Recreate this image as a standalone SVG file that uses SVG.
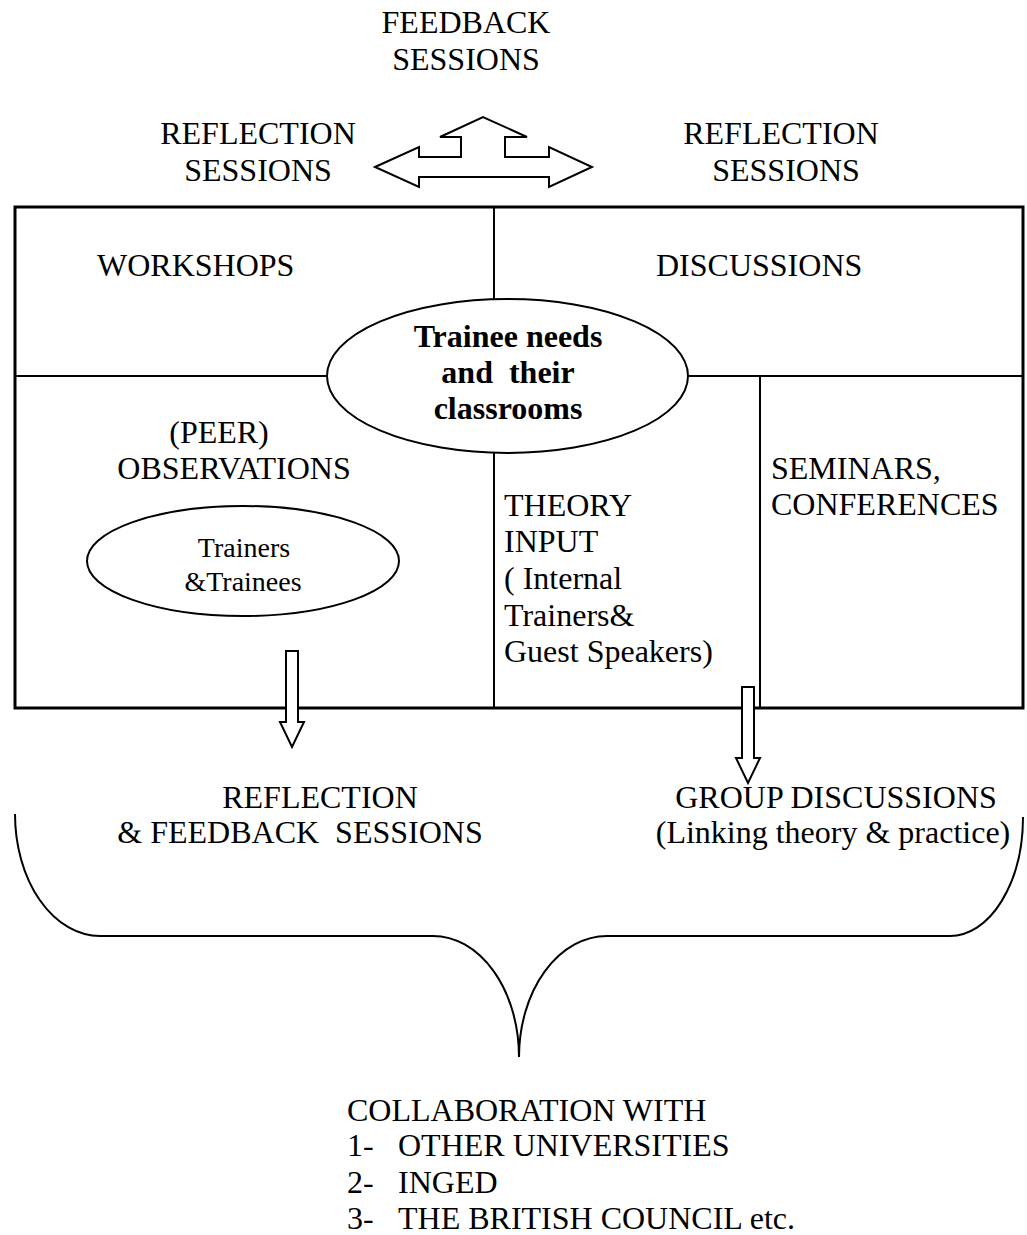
<svg xmlns="http://www.w3.org/2000/svg" width="1027" height="1235" viewBox="0 0 1027 1235">
<style>
text{font-family:"Liberation Serif","Times New Roman",serif;font-size:32px;fill:#000;white-space:pre}
.c{text-anchor:middle}
.b{font-weight:bold}
.s{font-size:28px}
.ln{stroke:#000;stroke-width:2;fill:none}
.shape{stroke:#000;stroke-width:2;fill:#fff}
</style>
<rect width="1027" height="1235" fill="#fff"/>
<g id="top-labels">
<text class="c" x="466" y="33">FEEDBACK</text>
<text class="c" x="466" y="70">SESSIONS</text>
<text class="c" x="258" y="144">REFLECTION</text>
<text class="c" x="258" y="181">SESSIONS</text>
<text class="c" x="781" y="144">REFLECTION</text>
<text class="c" x="786" y="181">SESSIONS</text>
</g>
<g id="triple-arrow">
<polygon class="shape" points="375,167 419,147 419,157 461,157 461,137 440,137 483,117 527,137 505,137 505,157 549,157 549,147 592,167 549,187 549,177 419,177 419,187"/>
</g>
<g id="frame">
<rect x="15" y="207" width="1008" height="501" fill="none" stroke="#000" stroke-width="3"/>
<line class="ln" x1="15" y1="376" x2="1023" y2="376"/>
<line class="ln" x1="494" y1="207" x2="494" y2="708"/>
<line class="ln" x1="760" y1="376" x2="760" y2="708"/>
</g>
<g id="workshops"><text x="97" y="276">WORKSHOPS</text></g>
<g id="discussions"><text x="656" y="276">DISCUSSIONS</text></g>
<g id="trainee-needs">
<ellipse class="shape" cx="507.5" cy="376" rx="180.5" ry="77"/>
<text class="c b" x="508" y="347">Trainee needs</text>
<text class="c b" x="508" y="383">and  their</text>
<text class="c b" x="508" y="419">classrooms</text>
</g>
<g id="observations">
<text class="c" x="219" y="443">(PEER)</text>
<text class="c" x="234" y="479">OBSERVATIONS</text>
</g>
<g id="trainers">
<ellipse class="shape" cx="243" cy="561" rx="156" ry="55"/>
<text class="c s" x="244" y="557">Trainers</text>
<text class="c s" x="243" y="591">&amp;Trainees</text>
</g>
<g id="theory-input">
<text x="504" y="516">THEORY</text>
<text x="504" y="552">INPUT</text>
<text x="504" y="589">( Internal</text>
<text x="504" y="626">Trainers&amp;</text>
<text x="504" y="662">Guest Speakers)</text>
</g>
<g id="seminars">
<text x="771" y="479">SEMINARS,</text>
<text x="771" y="515">CONFERENCES</text>
</g>
<g id="connectors">
<polygon class="shape" points="286,651 298,651 298,722 304,722 292,747 280,722 286,722"/>
<polygon class="shape" points="742,687 754,687 754,758 760,758 748,783 736,758 742,758"/>
<path class="ln" d="M15,814 A85,122 0 0 0 100,936 L433,936 A86,121 0 0 1 519,1057 A88,121 0 0 1 607,936 L950,936 A73,119 0 0 0 1023,817"/>
</g>
<g id="reflection-feedback">
<text class="c" x="320" y="808">REFLECTION</text>
<text class="c" x="300" y="843">&amp; FEEDBACK  SESSIONS</text>
</g>
<g id="group-discussions">
<text class="c" x="836" y="808">GROUP DISCUSSIONS</text>
<text class="c" x="833" y="843">(Linking theory &amp; practice)</text>
</g>
<g id="collaboration">
<text x="347" y="1121">COLLABORATION WITH</text>
<text x="347" y="1156">1-</text><text x="398" y="1156">OTHER UNIVERSITIES</text>
<text x="347" y="1193">2-</text><text x="398" y="1193">INGED</text>
<text x="347" y="1229">3-</text><text x="398" y="1229">THE BRITISH COUNCIL etc.</text>
</g>
</svg>
